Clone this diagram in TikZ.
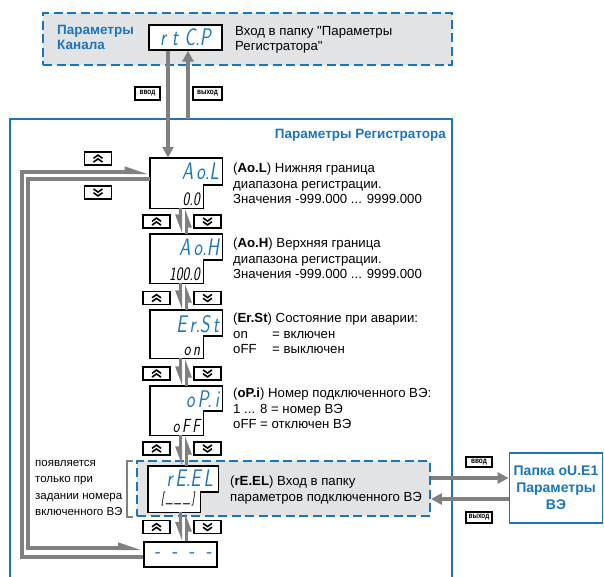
\documentclass[tikz,border=0pt]{standalone}
\usepackage{fontspec}
\usepackage{graphicx}
\setmainfont{Liberation Sans}
\newfontfamily\plainfont{Liberation Sans}
\newfontfamily\condb{Liberation Sans}[FakeStretch=0.8]
\usetikzlibrary{arrows.meta}
\definecolor{owblue}{HTML}{1B75BC}
\definecolor{lgray}{HTML}{808080}
\definecolor{fgray}{HTML}{E2E3E5}
\newcommand\segtxt[1]{\scalebox{0.76}[1]{\sffamily\itshape #1}}
\newcommand\mkdisp[7]{%
  \node[dispn, minimum width=#4pt, minimum height=#5pt] (#1) at (#2,#3) {};
  \draw[dispf] (#1.north west) -- (#1.north east) -- ([yshift=-#7pt]#1.north east) -| ([xshift=-#6pt]#1.south east) -- (#1.south west) -- cycle;}
\newcommand\upbtn[3]{%
  \node[btn] (#1) at (#2,#3) {};
  \draw[chev] ([shift={(-4.5,-0.2)}]#1.center) -- ++(4.5,-3.2) -- ++(4.5,3.2);
  \draw[chev] ([shift={(-4.5,3.6)}]#1.center) -- ++(4.5,-3.2) -- ++(4.5,3.2);}
\newcommand\dnbtn[3]{%
  \node[btn] (#1) at (#2,#3) {};
  \draw[chev] ([shift={(-4.5,-3.6)}]#1.center) -- ++(4.5,3.2) -- ++(4.5,-3.2);
  \draw[chev] ([shift={(-4.5,0.2)}]#1.center) -- ++(4.5,3.2) -- ++(4.5,-3.2);}
\begin{document}
\begin{tikzpicture}[x=1pt,y=-1pt,
  dashbox/.style={draw=owblue, fill=fgray, line width=1.8pt, dash pattern=on 9pt off 4.5pt, inner sep=0},
  bluebox/.style={draw=owblue, line width=1.8pt},
  titleb/.style={text=owblue, font=\bfseries\fontsize{13.5}{14.5}\selectfont, inner sep=0, align=left},
  desc/.style={font=\fontsize{13.2}{15.5}\selectfont, inner sep=0, align=left, anchor=north west},
  dispn/.style={inner sep=0},
  dispf/.style={draw=black, fill=white, line width=1.4pt},
  plaindisp/.style={draw=black, fill=white, line width=1.4pt, inner sep=0},
  segu/.style={text=owblue, font=\fontsize{24}{24}\selectfont, inner sep=0},
  segl/.style={text=black, font=\fontsize{19}{19}\selectfont, inner sep=0},
  btn/.style={draw=black, fill=white, line width=1.3pt, minimum width=27pt, minimum height=13pt, inner sep=0},
  chev/.style={draw=black, line width=1.6pt},
  lab/.style={draw=black, fill=white, line width=1.1pt, inner sep=1.2pt, font=\condb\bfseries\fontsize{8}{8}\selectfont},
  gthick/.style={draw=lgray, line width=4.5pt},
  gloop/.style={draw=lgray, line width=4pt},
  gthin/.style={draw=lgray, line width=3pt},
  head/.style={-{Triangle[length=11pt,width=11pt]}},
  harp/.style={-{Triangle[harpoon,swap,length=15pt,width=10pt]}},
  harpn/.style={-{Triangle[harpoon,length=18pt,width=10pt]}},
  small/.style={font=\fontsize{11.5}{16.5}\selectfont, inner sep=0, align=left}
]
\useasboundingbox (0,0) rectangle (604,576);

% top dashed box
\node[dashbox, minimum width=409pt, minimum height=52pt] (kanal) at (247.5,39) {};
\node[titleb, anchor=north west] (kanaltxt) at (57,25.5) {Параметры\\Канала};
\node[plaindisp, minimum width=73pt, minimum height=25pt] (rtcp) at (185.5,37.5) {};
\node[segu, anchor=center] (rtcptxt) at (rtcp.center) {\segtxt{r\,\,t\,\,C.P}};
\node[desc, font=\plainfont\fontsize{13.2}{15.5}\selectfont] (rtcpd) at (235,26) {Вход в папку "Параметры\\Регистратора"};

% main blue box
\coordinate (mbl) at (10,578);
\coordinate (mtl) at (10,119);
\coordinate (mtr) at (452,119);
\coordinate (mbr) at (452,578);
\draw[bluebox] (mbl) -- (mtl) -- (mtr) -- (mbr);
\node[titleb, anchor=north east] (regtitle) at (446,129) {Параметры Регистратора};

% displays
\mkdisp{aol}{186}{183}{72}{50}{19}{27}
\node[segu, anchor=north east] (aolu) at ([shift={(-3,5)}]aol.north east) {\segtxt{A\,o.L}};
\node[segl, anchor=south east] (aoll) at ([shift={(-22,-2.5)}]aol.south east) {\segtxt{0.0}};

\mkdisp{aoh}{186}{258.5}{72}{49}{19}{26}
\node[segu, anchor=north east] (aohu) at ([shift={(-3,5)}]aoh.north east) {\segtxt{A\,o.H}};
\node[segl, anchor=south east] (aohl) at ([shift={(-22,-2.5)}]aoh.south east) {\segtxt{100.0}};

\mkdisp{erst}{186}{334}{72}{48}{19}{26}
\node[segu, anchor=north east] (erstu) at ([shift={(-3,5)}]erst.north east) {\segtxt{E\,r.S\,t}};
\node[segl, anchor=south east] (erstl) at ([shift={(-22,-2.5)}]erst.south east) {\segtxt{o\,n}};

\mkdisp{opi}{186}{410.5}{72}{49}{19}{25}
\node[segu, anchor=north east] (opiu) at ([shift={(-3,5)}]opi.north east) {\segtxt{o\,P.\,i}};
\node[segl, anchor=south east] (opil) at ([shift={(-22,-2.5)}]opi.south east) {\segtxt{o\,F\,F}};

% rE.EL dashed area
\node[dashbox, minimum width=293pt, minimum height=55pt] (reelbox) at (283.5,488.5) {};
\mkdisp{reel}{183}{489}{70}{46}{18}{26}
\node[segu, anchor=north east] (reelu) at ([shift={(-5,4)}]reel.north east) {\segtxt{r\,E.E\,L}};
\node[segl, font=\fontsize{14}{14}\selectfont, anchor=south east] (reell) at ([shift={(-23,-6)}]reel.south east) {\segtxt{[\,\_\,\_\,\_\,]}};

\node[plaindisp, minimum width=73pt, minimum height=25pt] (dsh) at (180.5,554.5) {};
\node[segu, text=owblue, anchor=east] (dshtxt) at ([xshift=-6pt,yshift=-1pt]dsh.east) {\segtxt{-\ \ -\ \ -\ \ -}};

% descriptions
\node[desc] (aold) at (233,163) {(\textbf{Ao.L}) Нижняя граница\\диапазона регистрации.\\Значения -999.000 ... 9999.000};
\node[desc] (aohd) at (233,238) {(\textbf{Ao.H}) Верхняя граница\\диапазона регистрации.\\Значения -999.000 ... 9999.000};
\node[desc] (erstd) at (233,313) {(\textbf{Er.St}) Состояние при аварии:\\\makebox[39pt][l]{on}= включен\\\makebox[39pt][l]{oFF}= выключен};
\node[desc] (opid) at (233,388) {(\textbf{oP.i}) Номер подключенного ВЭ:\\1 ... 8 = номер ВЭ\\\makebox[27pt][l]{oFF}= отключен ВЭ};
\node[desc] (reeld) at (230,476) {(\textbf{rE.EL}) Вход в папку\\параметров подключенного ВЭ};

% note and bracket
\node[small, anchor=north west] (note) at (35,460) {появляется\\только при\\задании номера\\включенного ВЭ};
\coordinate (bt) at (133,461);
\coordinate (bb) at (133,517);
\draw[lgray, line width=1.2pt] (bt) -- ++(-6,0) |- (bb);

% top arrows
\coordinate (xin) at (168,0);
\coordinate (xout) at (188,0);
\draw[gthick, head] (rtcp.south -| xin) -- (aol.north -| xin);
\draw[gthick, head] (mtl -| xout) -- (rtcp.south -| xout);
\node[lab, minimum width=25pt, minimum height=13pt] (vvod1) at (147.5,93.5) {ввод};
\node[lab, minimum width=29pt, minimum height=13pt] (vyh1) at (207.5,93.5) {выход};

% between displays
\coordinate (xl) at (180.5,0);
\coordinate (xr) at (186.5,0);
\foreach \a/\b in {aol/aoh, aoh/erst, erst/opi, opi/reel, reel/dsh}{
  \draw[gthin, harp] (\a.south -| xl) -- (\b.north -| xl);
  \draw[gthin, harp] (\b.north -| xr) -- (\a.south -| xr);
}
\upbtn{u1}{156.5}{221.5}\dnbtn{d1}{207.5}{221.5}
\upbtn{u2}{156.5}{298}\dnbtn{d2}{207.5}{298}
\upbtn{u3}{156.5}{373.5}\dnbtn{d3}{207.5}{373.5}
\upbtn{u4}{156.5}{448.5}\dnbtn{d4}{207.5}{448.5}
\upbtn{u5}{156.5}{527}\dnbtn{d5}{207.5}{527}

% loop
\coordinate (lo1) at (22,172);
\coordinate (lo2) at (28,179);
\coordinate (lb1) at (22,557);
\coordinate (lb2) at (28,548);
\draw[gloop, harpn] (dsh.west |- lb1) -- (lb1) -- (lo1) -- (aol.west |- lo1);
\draw[gloop, harpn] (aol.west |- lo2) -- (lo2) -- (lb2) -- (dsh.west |- lb2);
\upbtn{ul}{98}{158.5}
\dnbtn{dl}{98}{192.5}

% right folder
\node[draw=owblue, line width=1.8pt, fill=white, minimum width=93pt, minimum height=70pt, inner sep=0] (papka) at (556,488) {};
\node[titleb, align=center, font=\bfseries\fontsize{14}{17}\selectfont] (papkat) at (papka.center) {Папка oU.E1\\Параметры\\ВЭ};
\coordinate (yin) at (0,478);
\coordinate (yout) at (0,499);
\draw[gloop, head] (reelbox.east |- yin) -- (papka.west |- yin);
\draw[gloop, head] (papka.west |- yout) -- (reelbox.east |- yout);
\node[lab, minimum width=26pt, minimum height=10pt] (vvod2) at (479,462) {ввод};
\node[lab, minimum width=26pt, minimum height=11pt] (vyh2) at (479,517.5) {выход};
\end{tikzpicture}
\end{document}
